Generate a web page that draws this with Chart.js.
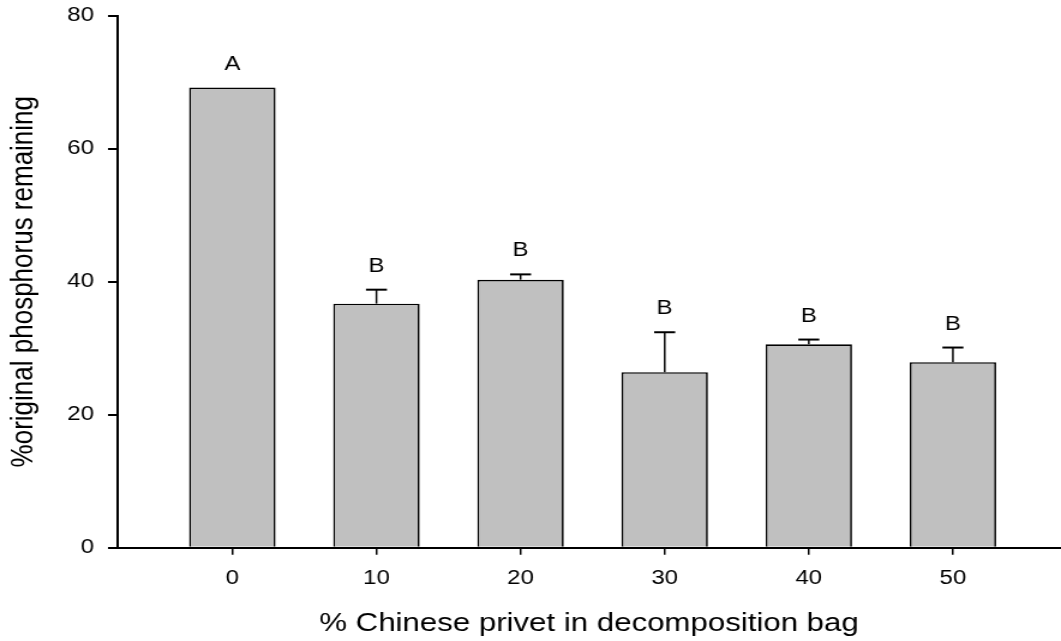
<!DOCTYPE html>
<html>
<head>
<meta charset="utf-8">
<script src="https://cdn.jsdelivr.net/npm/chart.js@4.4.1/dist/chart.umd.min.js"></script>
<style>
  html, body { margin: 0; padding: 0; background: #fff; }
  #plot { display: block; }
</style>
</head>
<body>
<!-- the original figure is stretched sideways, so the 884px canvas is shown 1061px wide -->
<canvas id="plot" width="884" height="641" style="width:1061px;height:641px"></canvas>
<script>
// % Chinese privet in the bag vs. % of original phosphorus left
const privet = [0, 10, 20, 30, 40, 50];
const phosphorus = [69.2, 36.7, 40.3, 26.4, 30.6, 27.9];
const stdErr = [0, 2.1, 0.8, 6.0, 0.7, 2.2];
const groups = ['A', 'B', 'B', 'B', 'B', 'B'];
const yTicks = [0, 20, 40, 60, 80];

const family = 'Arial, "Liberation Sans", Helvetica, sans-serif';

// error bars (upper half only) and the letters above them
const errorBars = {
  id: 'errorBars',
  afterDatasetsDraw(chart) {
    const { ctx, scales: { x, y } } = chart;
    ctx.save();
    ctx.strokeStyle = '#000';
    ctx.fillStyle = '#000';
    ctx.font = '20px ' + family;
    ctx.textAlign = 'center';
    ctx.textBaseline = 'alphabetic';
    privet.forEach((p, i) => {
      const px = x.getPixelForValue(p);
      const yBar = y.getPixelForValue(phosphorus[i]);
      const yTop = y.getPixelForValue(phosphorus[i] + stdErr[i]);
      if (stdErr[i] > 0) {
        ctx.lineWidth = 1.5;
        ctx.beginPath();
        ctx.moveTo(px, yBar);
        ctx.lineTo(px, yTop);
        ctx.stroke();
        ctx.lineWidth = 2;
        ctx.beginPath();
        ctx.moveTo(px - 8.75, yTop);
        ctx.lineTo(px + 8.75, yTop);
        ctx.stroke();
      }
      ctx.fillText(groups[i], px, yTop - 18);
    });
    ctx.restore();
  }
};

new Chart(document.getElementById('plot'), {
  type: 'bar',
  data: {
    datasets: [{
      data: privet.map((p, i) => ({ x: p, y: phosphorus[i] })),
      backgroundColor: '#c0c0c0',
      borderColor: '#000',
      borderWidth: 1.7,
      barPercentage: 0.6,
      categoryPercentage: 1.0
    }]
  },
  options: {
    responsive: false,
    animation: false,
    layout: { padding: { top: 15.7, left: 0, right: 0, bottom: 0 } },
    plugins: {
      legend: { display: false },
      tooltip: { enabled: false }
    },
    scales: {
      x: {
        type: 'linear',
        min: -8,
        max: 57.5,
        offset: false,
        afterBuildTicks: s => { s.ticks = privet.map(v => ({ value: v })); },
        afterFit: s => { s.height = 93.3; s.paddingLeft = 0; s.paddingRight = 0; },
        border: { display: true, color: '#000', width: 2 },
        grid: { offset: false, drawOnChartArea: false, drawTicks: true, tickLength: 7, color: '#000', lineWidth: 1.5 },
        ticks: { color: '#000', padding: 12, maxRotation: 0, font: { size: 20, family: family } },
        title: {
          display: true,
          text: '% Chinese privet in decomposition bag',
          color: '#000',
          font: { size: 26, family: family },
          padding: { top: 0, bottom: 2 }
        }
      },
      y: {
        min: 0,
        max: 80,
        afterBuildTicks: s => { s.ticks = yTicks.map(v => ({ value: v })); },
        afterFit: s => { s.width = 97.5; s.paddingTop = 0; s.paddingBottom = 0; },
        border: { display: true, color: '#000', width: 2 },
        grid: { drawOnChartArea: false, drawTicks: true, tickLength: 7.5, color: '#000', lineWidth: 2 },
        ticks: { color: '#000', padding: 11.7, font: { size: 20, family: family } },
        title: {
          display: true,
          text: '%original phosphorus remaining',
          color: '#000',
          font: { size: 26, family: family },
          padding: { top: 4.7, bottom: 0 }
        }
      }
    }
  },
  plugins: [errorBars]
});
</script>
</body>
</html>
